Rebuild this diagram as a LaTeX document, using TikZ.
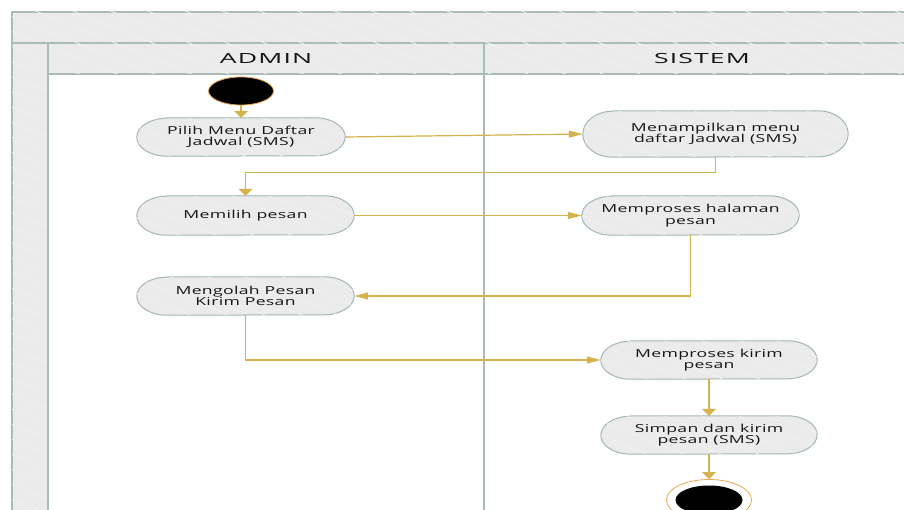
\documentclass[tikz,border=0pt]{standalone}
\usepackage{fontspec}
\setmainfont{Open Sans}
\newfontfamily\nodefont[FakeStretch=1.6,LetterSpace=3]{Open Sans}
\newfontfamily\headfont[FakeStretch=1.9,LetterSpace=8]{Open Sans}
\usetikzlibrary{arrows.meta,patterns.meta,shapes.geometric,calc}
\definecolor{frameln}{HTML}{A9BCB6}
\definecolor{framefill}{HTML}{EBEBEB}
\definecolor{hatchc}{HTML}{F1F1F1}
\definecolor{nodeln}{HTML}{A3B8B0}
\definecolor{flow}{HTML}{D4B24E}
\definecolor{ring}{HTML}{EBA64A}
\definecolor{txt}{HTML}{151515}
\pgfdeclarelayer{bglayer}
\pgfdeclarelayer{midlayer}
\pgfsetlayers{bglayer,midlayer,main}
\newcommand\stadium[2]{%
  \begin{pgfonlayer}{midlayer}
    \path[fill=black,opacity=0.08,shift={(1.5,2.5)}]
      ($(#1.north west)+(30,0)$) -- ($(#1.north east)+(-30,0)$)
      arc[start angle=-90,end angle=90,x radius=30,y radius=#2]
      -- ($(#1.south west)+(30,0)$)
      arc[start angle=90,end angle=270,x radius=30,y radius=#2] -- cycle;
    \path[actshape]
      ($(#1.north west)+(30,0)$) -- ($(#1.north east)+(-30,0)$)
      arc[start angle=-90,end angle=90,x radius=30,y radius=#2]
      -- ($(#1.south west)+(30,0)$)
      arc[start angle=90,end angle=270,x radius=30,y radius=#2] -- cycle;
  \end{pgfonlayer}}
\begin{document}
\begin{tikzpicture}[x=1pt,y=-1pt,
  hatch/.style={postaction={pattern={Lines[angle=-22,distance=14pt,line width=0.8pt]},pattern color=hatchc}},
  band/.style={draw=frameln,line width=1.3pt,fill=framefill,hatch},
  actshape/.style={draw=nodeln,line width=1pt,fill=framefill,hatch},
  act/.style={draw=none,minimum width=217pt,minimum height=39pt,align=center,
    font=\nodefont\fontsize{11}{11.5}\selectfont,text=txt,inner sep=0pt},
  headtxt/.style={font=\headfont\fontsize{14}{16}\selectfont,text=txt,inner sep=0pt},
  flowline/.style={draw=flow,line width=1.2pt},
  harrow/.style={flowline,-{Triangle[length=14pt,width=7pt]}},
  varrow/.style={flowline,-{Triangle[length=7pt,width=14pt]}},
]
\useasboundingbox (0,0) rectangle (904,510);
\begin{pgfonlayer}{bglayer}
  \clip (0,0) rectangle (904,510);
  \path[band] (12,12) rectangle (930,540);
  \fill[white] (48,74) rectangle (930,540);
  \draw[frameln,line width=1.3pt] (12,43) -- (930,43);
  \path[band] (48,43) rectangle (484,74);
  \path[band] (484,43) rectangle (930,74);
  \draw[frameln,line width=1.3pt] (48,43) -- (48,540);
  \draw[frameln,line width=1.6pt] (484,43) -- (484,540);
\end{pgfonlayer}
\node[headtxt] (hadmin) at (266,58.5) {ADMIN};
\node[headtxt] (hsistem) at (702,58.5) {SISTEM};

\node[ellipse,draw=ring,line width=0.8pt,fill=black,minimum width=65pt,minimum height=28pt,inner sep=0pt] (start) at (241,91) {};

\node[act,minimum width=208pt,minimum height=38pt] (pilih) at (241,137) {Pilih Menu Daftar\\Jadwal (SMS)};
\node[act,minimum width=265pt,minimum height=46pt] (mena) at (715.5,134) {Menampilkan menu\\daftar Jadwal (SMS)};
\node[act] (memilih) at (245.5,215.5) {Memilih pesan};
\node[act] (mhal) at (690.5,215.5) {Memproses halaman\\pesan};
\node[act,minimum height=38pt] (mengolah) at (245.5,296) {Mengolah Pesan\\Kirim Pesan};
\node[act,minimum width=216pt,minimum height=38pt] (kirim) at (709,360) {Memproses kirim\\pesan};
\node[act,minimum width=216pt,minimum height=38pt] (simpan) at (709,435) {Simpan dan kirim\\pesan (SMS)};
\stadium{pilih}{19}
\stadium{mena}{23}
\stadium{memilih}{19.5}
\stadium{mhal}{19.5}
\stadium{mengolah}{19}
\stadium{kirim}{19}
\stadium{simpan}{19}

\node[ellipse,draw=ring,line width=0.8pt,fill=white,minimum width=85pt,minimum height=41pt,inner sep=0pt] (end) at (709,500) {};
\node[ellipse,fill=black,minimum width=67pt,minimum height=29pt,inner sep=0pt] (endin) at (end.center) {};

\draw[varrow] (start) -- (pilih);
\draw[harrow] (pilih.east) -- (mena.west);
\draw[varrow] (mena.south) -- ++(0,15) -| (memilih.north);
\draw[harrow] (memilih) -- (mhal);
\draw[harrow] (mhal.south) |- (mengolah.east);
\draw[harrow] (mengolah.south) |- (kirim.west);
\draw[varrow] (kirim) -- (simpan);
\draw[varrow] (simpan) -- (end);
\end{tikzpicture}
\end{document}
